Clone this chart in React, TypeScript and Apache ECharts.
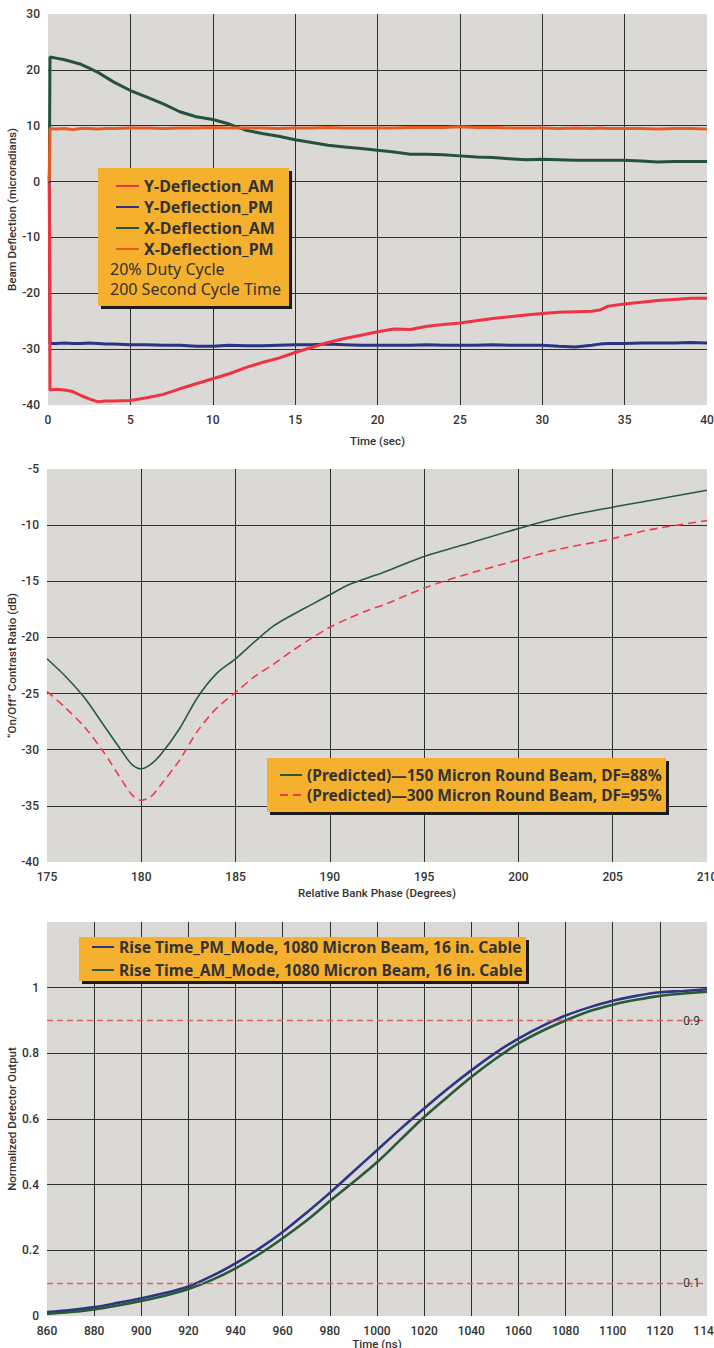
import React, { useEffect, useRef } from "react";
import * as echarts from "echarts";

// ---------- Chart 1: Beam deflection vs time ----------
const t1 = [0, 0.08, 0.12, 0.5, 1, 1.5, 2, 2.5, 3, 3.5, 4, 5, 6, 7, 8, 9, 10, 11, 12, 13, 14, 15, 16, 17, 18, 19, 20, 21, 22, 23, 24, 25, 26, 27, 28, 29, 30, 31, 32, 33, 33.5, 34, 35, 36, 37, 38, 39, 40];
const yDeflAM = [0, 0, -37.3, -37.2, -37.3, -37.6, -38.3, -38.9, -39.4, -39.3, -39.3, -39.2, -38.7, -38.1, -37.1, -36.2, -35.3, -34.4, -33.3, -32.4, -31.6, -30.6, -29.7, -28.8, -28.1, -27.5, -26.9, -26.4, -26.5, -25.9, -25.6, -25.3, -24.9, -24.5, -24.2, -23.9, -23.6, -23.4, -23.3, -23.2, -23.0, -22.3, -21.9, -21.6, -21.3, -21.1, -20.9, -20.9];
const yDeflPM = [1.1, 1.1, -29.0, -29.0, -28.9, -29.0, -29.0, -28.9, -29.0, -29.1, -29.1, -29.2, -29.2, -29.3, -29.3, -29.5, -29.5, -29.3, -29.4, -29.4, -29.3, -29.2, -29.2, -29.1, -29.2, -29.3, -29.3, -29.3, -29.3, -29.2, -29.3, -29.3, -29.3, -29.2, -29.3, -29.3, -29.3, -29.5, -29.6, -29.3, -29.1, -29.0, -29.0, -28.9, -28.9, -28.9, -28.8, -28.9];
const xDeflAM = [0, 0, 22.3, 22.1, 21.8, 21.4, 21.0, 20.3, 19.6, 18.7, 17.8, 16.3, 15.1, 13.9, 12.5, 11.6, 11.1, 10.3, 9.2, 8.6, 8.1, 7.5, 7.0, 6.5, 6.2, 5.9, 5.6, 5.3, 4.9, 4.9, 4.8, 4.6, 4.4, 4.3, 4.1, 3.9, 4.0, 3.9, 3.8, 3.8, 3.8, 3.8, 3.8, 3.7, 3.5, 3.6, 3.6, 3.6];
const xDeflPM = [0.3, 0.3, 9.5, 9.4, 9.5, 9.3, 9.5, 9.5, 9.4, 9.5, 9.5, 9.6, 9.6, 9.5, 9.6, 9.6, 9.7, 9.6, 9.6, 9.6, 9.5, 9.6, 9.6, 9.7, 9.6, 9.6, 9.6, 9.6, 9.7, 9.7, 9.7, 9.8, 9.7, 9.7, 9.6, 9.6, 9.6, 9.5, 9.6, 9.5, 9.6, 9.5, 9.5, 9.5, 9.4, 9.5, 9.5, 9.4];
const chart1Names = ["Y-Deflection_AM", "Y-Deflection_PM", "X-Deflection_AM", "X-Deflection_PM"];
const chart1Notes = ["20% Duty Cycle", "200 Second Cycle Time"];

// ---------- Chart 2: Contrast ratio vs bank phase ----------
const phase = [175, 176, 177, 178, 179, 179.5, 180, 180.5, 181, 182, 183, 184, 185, 186, 187, 188, 189, 190, 191, 192, 193, 195, 197, 200, 202, 205, 207, 210];
const beam150 = [-21.9, -23.5, -25.4, -27.8, -30.2, -31.3, -31.7, -31.3, -30.5, -28.2, -25.3, -23.2, -21.9, -20.4, -19.0, -18.0, -17.1, -16.2, -15.3, -14.7, -14.1, -12.8, -11.8, -10.3, -9.4, -8.4, -7.8, -6.9];
const beam300 = [-24.8, -26.3, -28.0, -30.2, -32.8, -34.0, -34.5, -34.2, -33.2, -31.0, -28.3, -26.3, -24.9, -23.5, -22.4, -21.2, -20.1, -19.1, -18.3, -17.6, -17.0, -15.6, -14.5, -13.1, -12.2, -11.2, -10.4, -9.6];
const chart2Names = ["(Predicted)\u2014150 Micron Round Beam, DF=88%", "(Predicted)\u2014300 Micron Round Beam, DF=95%"];

// ---------- Chart 3: Rise time ----------
const timeNs = [860, 870, 880, 890, 900, 910, 920, 930, 940, 950, 960, 970, 980, 990, 1000, 1010, 1020, 1030, 1040, 1050, 1060, 1070, 1080, 1090, 1100, 1110, 1120, 1130, 1140];
const risePM = [0.012, 0.018, 0.027, 0.04, 0.054, 0.07, 0.09, 0.122, 0.16, 0.205, 0.256, 0.314, 0.375, 0.44, 0.505, 0.57, 0.632, 0.692, 0.748, 0.8, 0.845, 0.883, 0.915, 0.94, 0.96, 0.975, 0.986, 0.99, 0.995];
const riseAM = [0.006, 0.012, 0.02, 0.032, 0.046, 0.062, 0.082, 0.11, 0.145, 0.188, 0.237, 0.29, 0.35, 0.408, 0.468, 0.537, 0.606, 0.668, 0.728, 0.782, 0.83, 0.868, 0.9, 0.928, 0.948, 0.963, 0.975, 0.982, 0.988];
const thresholds = [0.9, 0.1];
const chart3Names = ["Rise Time_PM_Mode, 1080 Micron Beam, 16 in. Cable", "Rise Time_AM_Mode, 1080 Micron Beam, 16 in. Cable"];

const FONT = "Roboto";
const LFONT = "Noto Sans";
const TXT = "#333333";
const BG = "#dad9d6";
const GRIDC = "#2e2e2e";
const ORANGE = "#f5b02e";

const pairs = (xs: number[], ys: number[]) => xs.map((x, i) => [x, ys[i]]);
const plain = (v: number) => String(Math.round(v * 100) / 100);

function xAxisCfg(gridIndex: number, min: number, max: number, interval: number, name: string, nameGap: number) {
  return {
    type: "value", gridIndex, min, max, interval, name, nameLocation: "middle", nameGap,
    nameTextStyle: { color: TXT, fontSize: 11.5, fontWeight: 500, fontFamily: FONT },
    axisLine: { show: false }, axisTick: { show: false },
    axisLabel: { color: TXT, fontSize: 12, fontWeight: 500, fontFamily: FONT, margin: 9, formatter: plain },
    splitLine: { show: true, showMinLine: false, showMaxLine: false, lineStyle: { color: GRIDC, width: 1 } },
  };
}
function yAxisCfg(gridIndex: number, min: number, max: number, interval: number, name: string, nameGap: number, formatter?: any) {
  return {
    type: "value", gridIndex, min, max, interval, name, nameLocation: "middle", nameGap, nameMoveOverlap: false,
    nameTextStyle: { color: TXT, fontSize: 11.5, fontWeight: 500, fontFamily: FONT },
    axisLine: { show: false }, axisTick: { show: false },
    axisLabel: { color: TXT, fontSize: 12, fontWeight: 500, fontFamily: FONT, margin: 8, formatter: formatter || plain },
    splitLine: { show: true, showMinLine: false, showMaxLine: false, lineStyle: { color: GRIDC, width: 1 } },
  };
}
function legendBox(x: number, y: number, w: number, h: number) {
  return [
    { type: "rect", z: 50, shape: { x: x + 3, y: y + 3, width: w, height: h }, style: { fill: "#1a1a1a" } },
    { type: "rect", z: 51, shape: { x, y, width: w, height: h }, style: { fill: ORANGE } },
  ];
}
const legendText = (size: number) => ({ color: TXT, fontSize: size, fontWeight: "bold", fontFamily: LFONT });
const legendCommon = {
  orient: "vertical", itemHeight: 14, selectedMode: false, z: 60,
  itemStyle: { opacity: 0, borderWidth: 0 },
};
const markStyle = { color: "#e0605f", width: 1.3, type: [6, 4], opacity: 1 };
const markLineFor = (v: number) => ({
  silent: true, symbol: "none", lineStyle: markStyle,
  label: { show: true, position: "insideEndTop", distance: [7, -6], color: TXT, fontSize: 12, fontFamily: FONT, formatter: "{c}" },
  data: [{ yAxis: v, lineStyle: markStyle }],
});

export default function App() {
  const ref = useRef<HTMLDivElement>(null);
  useEffect(() => {
    document.body.style.margin = "0";
    const chart = echarts.init(ref.current!, null, { renderer: "svg" });
    const gridBase = { show: true, backgroundColor: BG, borderWidth: 0, outerBoundsMode: "none", containLabel: false };
    const option: any = {
      animation: false,
      textStyle: { fontFamily: FONT },
      grid: [
        { ...gridBase, left: 48, right: 7, top: 14, height: 391 },
        { ...gridBase, left: 47, right: 7, top: 469, height: 393 },
        { ...gridBase, left: 47, right: 7, top: 922, height: 394 },
      ],
      xAxis: [
        xAxisCfg(0, 0, 40, 5, "Time (sec)", 30),
        xAxisCfg(1, 175, 210, 5, "Relative Bank Phase (Degrees)", 25),
        xAxisCfg(2, 860, 1140, 20, "Time (ns)", 19),
      ],
      yAxis: [
        yAxisCfg(0, -40, 30, 10, "Beam Deflection (microradians)", 30),
        yAxisCfg(1, -40, -5, 5, "\u201COn/Off\u201D Contrast Ratio (dB)", 29),
        yAxisCfg(2, 0, 1.2, 0.2, "Normalized Detector Output", 29, (v: number) => (v > 1.1 ? "" : plain(v))),
      ],
      legend: [
        { ...legendCommon, data: chart1Names, left: 110, top: 173, itemWidth: 23, itemGap: 5, textStyle: legendText(16) },
        { ...legendCommon, data: chart2Names, left: 274, top: 762, itemWidth: 22, itemGap: 4, textStyle: legendText(15.5) },
        { ...legendCommon, data: chart3Names, left: 86, top: 934, itemWidth: 22, itemGap: 7, textStyle: legendText(15.6) },
      ],
      graphic: [
        ...legendBox(98, 168, 191, 138),
        ...legendBox(267, 758, 399, 54),
        ...legendBox(79, 937, 447, 44),
        ...chart1Notes.map((t, i) => ({
          type: "text", z: 60, x: 110, y: 269 + i * 20,
          style: { text: t, fill: TXT, font: `16px "${LFONT}"`, textVerticalAlign: "middle" },
        })),
      ],
      series: [
        { type: "line", name: chart1Names[1], xAxisIndex: 0, yAxisIndex: 0, data: pairs(t1, yDeflPM), symbol: "none", lineStyle: { color: "#2b3384", width: 3 }, itemStyle: { color: "#2b3384" } },
        { type: "line", name: chart1Names[0], xAxisIndex: 0, yAxisIndex: 0, data: pairs(t1, yDeflAM), symbol: "none", lineStyle: { color: "#ef3342", width: 3 }, itemStyle: { color: "#ef3342" } },
        { type: "line", name: chart1Names[2], xAxisIndex: 0, yAxisIndex: 0, data: pairs(t1, xDeflAM), symbol: "none", lineStyle: { color: "#24533a", width: 3 }, itemStyle: { color: "#24533a" } },
        { type: "line", name: chart1Names[3], xAxisIndex: 0, yAxisIndex: 0, data: pairs(t1, xDeflPM), symbol: "none", lineStyle: { color: "#e95b24", width: 3 }, itemStyle: { color: "#e95b24" } },

        { type: "line", name: chart2Names[0], xAxisIndex: 1, yAxisIndex: 1, data: pairs(phase, beam150), symbol: "none", smooth: 0.3, lineStyle: { color: "#2a5a3a", width: 1.6 }, itemStyle: { color: "#2a5a3a" } },
        { type: "line", name: chart2Names[1], xAxisIndex: 1, yAxisIndex: 1, data: pairs(phase, beam300), symbol: "none", smooth: 0.3, lineStyle: { color: "#f03a48", width: 1.6, type: [8, 5] }, itemStyle: { color: "#f03a48" } },

        {
          type: "line", name: chart3Names[0], xAxisIndex: 2, yAxisIndex: 2, data: pairs(timeNs, risePM), symbol: "none", smooth: 0.3,
          lineStyle: { color: "#2d3585", width: 2.6 }, itemStyle: { color: "#2d3585" },
          markLine: markLineFor(thresholds[0]),
        },
        {
          type: "line", name: chart3Names[1], xAxisIndex: 2, yAxisIndex: 2, data: pairs(timeNs, riseAM), symbol: "none", smooth: 0.3,
          lineStyle: { color: "#275a35", width: 2.6 }, itemStyle: { color: "#275a35" },
          markLine: markLineFor(thresholds[1]),
        },
      ],
    };
    chart.setOption(option);
    return () => chart.dispose();
  }, []);
  return <div ref={ref} style={{ width: 714, height: 1348 }} />;
}
